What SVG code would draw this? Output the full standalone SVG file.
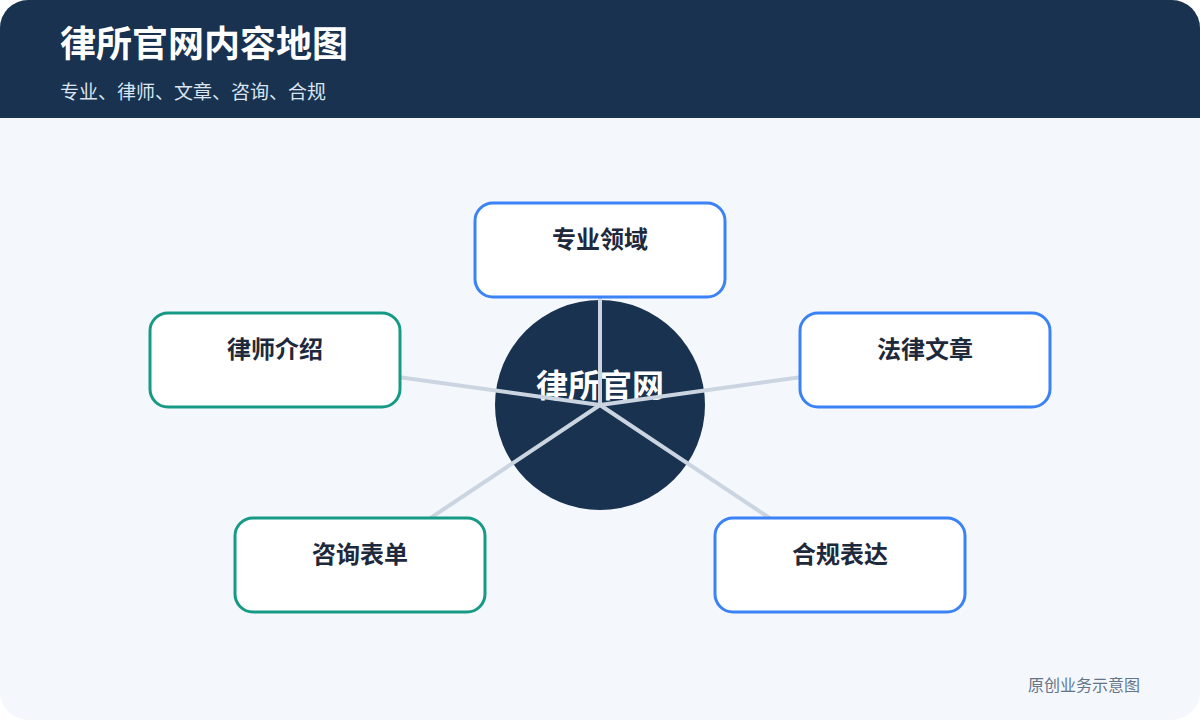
<svg xmlns="http://www.w3.org/2000/svg" width="1200" height="720" viewBox="0 0 1200 720">
<defs>
<clipPath id="frame"><rect x="0" y="0" width="1200" height="720" rx="28" ry="28"/></clipPath>
<style>
text{font-family:"Noto Sans CJK SC","Noto Sans",sans-serif;}
.title{font-size:36px;font-weight:700;fill:#ffffff;}
.sub{font-size:19px;fill:#dbe4ef;}
.box{fill:#ffffff;stroke-width:3;}
.blue{stroke:#3b82f6;}
.teal{stroke:#169a86;}
.label{font-size:24px;font-weight:700;fill:#1e293b;text-anchor:middle;}
.conn{stroke:#cbd5e1;stroke-width:4;stroke-linecap:round;fill:none;}
.foot{font-size:16px;fill:#64748b;text-anchor:end;}
</style>
</defs>
<rect width="1200" height="720" fill="#ffffff"/>
<g clip-path="url(#frame)">
<rect x="0" y="0" width="1200" height="720" fill="#f4f8fd"/>
<rect x="0" y="0" width="1200" height="118" fill="#183250"/>
</g>
<text class="title" x="60" y="57">律所官网内容地图</text>
<text class="sub" x="60" y="99">专业、律师、文章、咨询、合规</text>

<g id="center">
<circle cx="600" cy="405" r="105" fill="#183250"/>
<text x="600" y="397" font-size="32" font-weight="700" fill="#ffffff" text-anchor="middle">律所官网</text>
</g>

<g id="connectors">
<line class="conn" x1="600" y1="405" x2="600" y2="250"/>
<line class="conn" x1="600" y1="405" x2="275" y2="360"/>
<line class="conn" x1="600" y1="405" x2="925" y2="360"/>
<line class="conn" x1="600" y1="405" x2="360" y2="565"/>
<line class="conn" x1="600" y1="405" x2="840" y2="565"/>
</g>

<g id="node-zhuanye">
<rect class="box blue" x="475" y="203" width="250" height="94" rx="18"/>
<text class="label" x="600" y="248">专业领域</text>
</g>
<g id="node-lvshi">
<rect class="box teal" x="150" y="313" width="250" height="94" rx="18"/>
<text class="label" x="275" y="358">律师介绍</text>
</g>
<g id="node-wenzhang">
<rect class="box blue" x="800" y="313" width="250" height="94" rx="18"/>
<text class="label" x="925" y="358">法律文章</text>
</g>
<g id="node-zixun">
<rect class="box teal" x="235" y="518" width="250" height="94" rx="18"/>
<text class="label" x="360" y="563">咨询表单</text>
</g>
<g id="node-hegui">
<rect class="box blue" x="715" y="518" width="250" height="94" rx="18"/>
<text class="label" x="840" y="563">合规表达</text>
</g>

<text class="foot" x="1140" y="691">原创业务示意图</text>
</svg>
